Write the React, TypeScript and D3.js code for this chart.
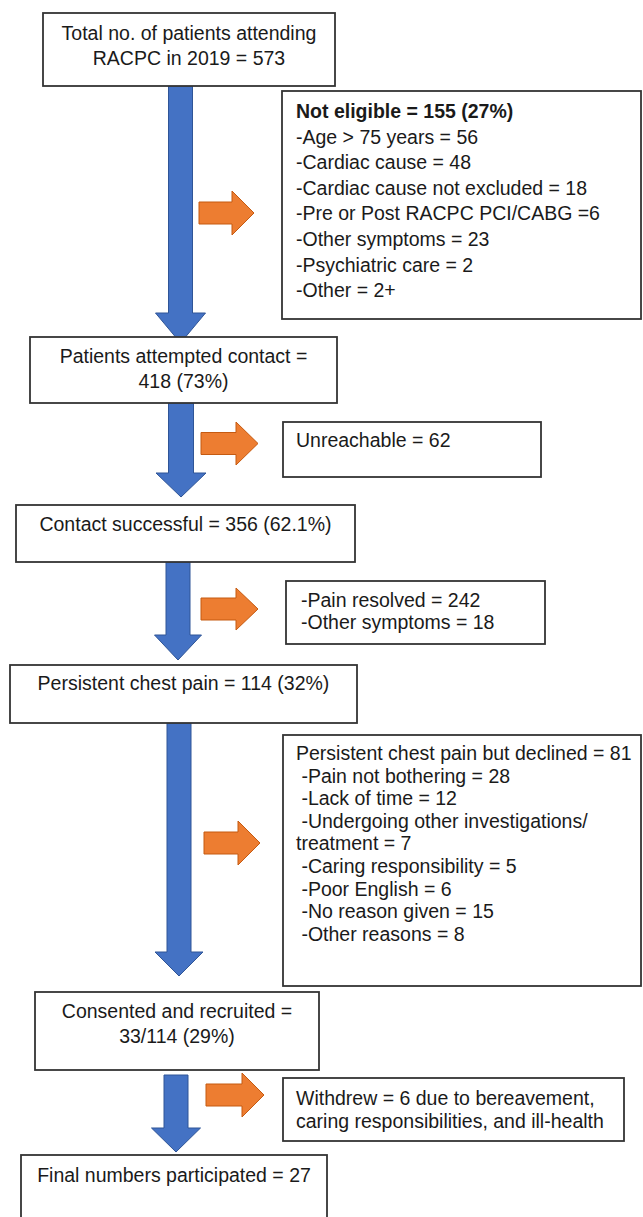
// Recruitment flowchart - RACPC 2019 chest pain follow-up
import React, { useEffect, useRef } from 'react';
import * as d3 from 'd3';

// Main (left column) steps
const mainSteps: string[][] = [
  ['Total no. of patients attending', 'RACPC in 2019 = 573'],
  ['Patients attempted contact =', '418 (73%)'],
  ['Contact successful = 356 (62.1%)'],
  ['Persistent chest pain = 114 (32%)'],
  ['Consented and recruited =', '33/114 (29%)'],
  ['Final numbers participated = 27'],
];

// Exclusions (right column)
const notEligible: string[] = [
  'Not eligible = 155 (27%)',
  '-Age > 75 years = 56',
  '-Cardiac cause = 48',
  '-Cardiac cause not excluded = 18',
  '-Pre or Post RACPC PCI/CABG =6',
  '-Other symptoms = 23',
  '-Psychiatric care = 2',
  '-Other = 2+',
];
const unreachable: string[] = ['Unreachable = 62'];
const painResolved: string[] = ['-Pain resolved = 242', '-Other symptoms = 18'];
const declined: string[] = [
  'Persistent chest pain but declined = 81',
  ' -Pain not bothering = 28',
  ' -Lack of time = 12',
  ' -Undergoing other investigations/',
  'treatment = 7',
  ' -Caring responsibility = 5',
  ' -Poor English = 6',
  ' -No reason given = 15',
  ' -Other reasons = 8',
];
const withdrew: string[] = [
  'Withdrew = 6 due to bereavement,',
  'caring responsibilities, and ill-health',
];
const sideNotes = [notEligible, unreachable, painResolved, declined, withdrew];

// layout (pixel geometry of the drawing)
const mainBoxes = [
  { x0: 43, x1: 335, y0: 13, y1: 86, base: 40, lh: 25 },
  { x0: 30, x1: 337, y0: 337, y1: 403, base: 363, lh: 25 },
  { x0: 16, x1: 355, y0: 505, y1: 562, base: 531, lh: 25 },
  { x0: 10, x1: 357, y0: 665, y1: 723, base: 690, lh: 25 },
  { x0: 35, x1: 319, y0: 992, y1: 1070, base: 1018, lh: 25 },
  { x0: 21, x1: 327, y0: 1155, y1: 1240, base: 1182, lh: 25 },
];
const sideBoxes = [
  { x0: 282, x1: 641, y0: 91, y1: 319, base: 118, lh: 25.6, tx: 296 },
  { x0: 283, x1: 541, y0: 422, y1: 477, base: 447, lh: 24, tx: 296 },
  { x0: 286, x1: 545, y0: 581, y1: 644, base: 607, lh: 21.5, tx: 301 },
  { x0: 283, x1: 641, y0: 735, y1: 986, base: 760, lh: 22.6, tx: 296 },
  { x0: 283, x1: 624, y0: 1078, y1: 1141, base: 1105, lh: 23, tx: 296 },
];
const downArrows = [
  { cx: 180.5, y0: 86, y1: 343, shaft: 24, head: 50, headL: 30 },
  { cx: 181, y0: 403, y1: 497, shaft: 25, head: 50, headL: 24 },
  { cx: 178, y0: 562, y1: 660, shaft: 24, head: 47, headL: 25 },
  { cx: 179, y0: 723, y1: 976, shaft: 24, head: 48, headL: 24 },
  { cx: 176, y0: 1075, y1: 1152, shaft: 24, head: 49, headL: 24 },
];
const rightArrows = [
  { x0: 199, x1: 254, cy: 213, shaft: 22, head: 44, headL: 22 },
  { x0: 201, x1: 258, cy: 443.5, shaft: 22, head: 43, headL: 22 },
  { x0: 201, x1: 258, cy: 609, shaft: 22, head: 42, headL: 22 },
  { x0: 204, x1: 260, cy: 843, shaft: 22, head: 44, headL: 22 },
  { x0: 206, x1: 264, cy: 1095, shaft: 22, head: 44, headL: 22 },
];

const W = 643;
const H = 1217;
const FONT = '"Liberation Sans", Arial, sans-serif';

export default function App() {
  const svgRef = useRef<SVGSVGElement>(null);

  useEffect(() => {
    if (!svgRef.current) return;
    const svg = d3.select(svgRef.current);
    svg.selectAll('*').remove();

    svg.append('rect').attr('width', W).attr('height', H).attr('fill', '#fff');

    const line = d3.line<[number, number]>();

    // blue down arrows
    downArrows.forEach(a => {
      const s = a.shaft / 2, h = a.head / 2, hy = a.y1 - a.headL;
      const pts: [number, number][] = [
        [a.cx - s, a.y0], [a.cx + s, a.y0], [a.cx + s, hy], [a.cx + h, hy],
        [a.cx, a.y1], [a.cx - h, hy], [a.cx - s, hy],
      ];
      svg.append('path')
        .attr('d', line(pts) + 'Z')
        .attr('fill', '#4472C4')
        .attr('stroke', '#2F5597')
        .attr('stroke-width', 1);
    });

    // orange side arrows
    rightArrows.forEach(a => {
      const s = a.shaft / 2, h = a.head / 2, hx = a.x1 - a.headL;
      const pts: [number, number][] = [
        [a.x0, a.cy - s], [hx, a.cy - s], [hx, a.cy - h], [a.x1, a.cy],
        [hx, a.cy + h], [hx, a.cy + s], [a.x0, a.cy + s],
      ];
      svg.append('path')
        .attr('d', line(pts) + 'Z')
        .attr('fill', '#ED7D31')
        .attr('stroke', '#C55A11')
        .attr('stroke-width', 1);
    });

    const drawBox = (b: { x0: number; x1: number; y0: number; y1: number }) =>
      svg.append('rect')
        .attr('x', b.x0).attr('y', b.y0)
        .attr('width', b.x1 - b.x0).attr('height', b.y1 - b.y0)
        .attr('fill', '#fff')
        .attr('stroke', '#333')
        .attr('stroke-width', 1.8);

    // main column boxes, centred text
    mainSteps.forEach((lines, i) => {
      const b = mainBoxes[i];
      drawBox(b);
      const t = svg.append('text')
        .attr('font-family', FONT)
        .attr('font-size', 19.5)
        .attr('fill', '#1a1a1a')
        .attr('text-anchor', 'middle');
      lines.forEach((ln, j) => {
        t.append('tspan')
          .attr('x', (b.x0 + b.x1) / 2)
          .attr('y', b.base + j * b.lh)
          .text(ln);
      });
    });

    // side boxes, left-aligned text
    sideNotes.forEach((lines, i) => {
      const b = sideBoxes[i];
      drawBox(b);
      const t = svg.append('text')
        .attr('font-family', FONT)
        .attr('font-size', 19.5)
        .attr('fill', '#1a1a1a')
        .attr('xml:space', 'preserve')
        .style('white-space', 'pre');
      lines.forEach((ln, j) => {
        t.append('tspan')
          .attr('x', b.tx)
          .attr('y', b.base + j * b.lh)
          .attr('font-weight', i === 0 && j === 0 ? 'bold' : 'normal')
          .text(ln);
      });
    });
  }, []);

  return (
    <div style={{ position: 'absolute', left: 0, top: 0, width: W, height: H, overflow: 'hidden' }}>
      <svg ref={svgRef} width={W} height={H} style={{ display: 'block' }} />
    </div>
  );
}
